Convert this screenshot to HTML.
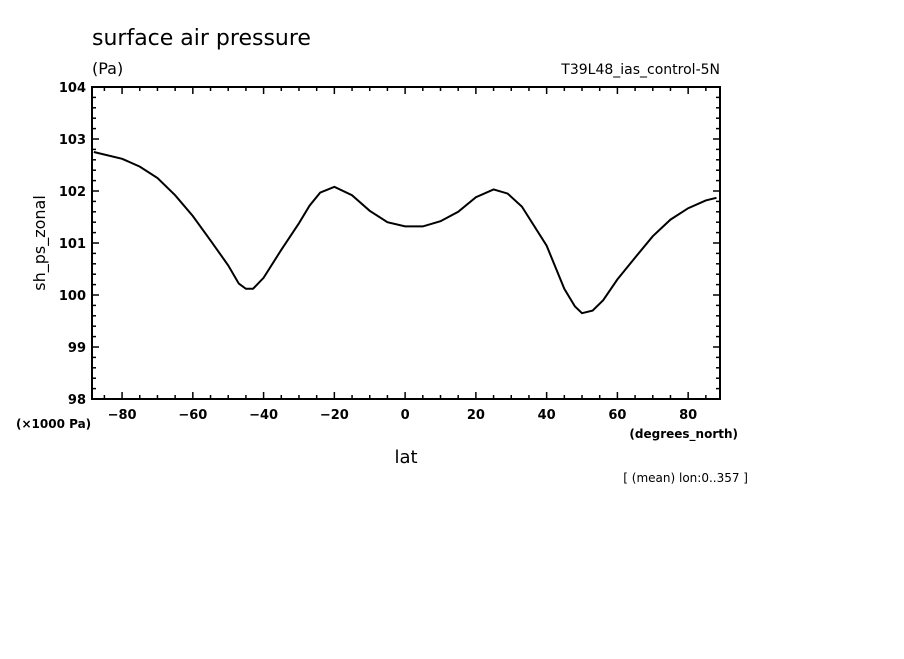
<!DOCTYPE html>
<html><head><meta charset="utf-8"><style>
body{margin:0;background:#fff;width:904px;height:654px;overflow:hidden}
svg text{font-family:"DejaVu Sans","Liberation Sans",sans-serif;fill:#000}
</style></head><body>
<svg id="chart" width="904" height="654">
<text x="92" y="45" font-size="22">surface air pressure</text>
<text x="92" y="74" font-size="16">(Pa)</text>
<text x="720" y="74" font-size="14" text-anchor="end">T39L48_ias_control-5N</text>
<text x="45" y="243" font-size="16" text-anchor="middle" transform="rotate(-90 45 243)">sh_ps_zonal</text>
<text x="16" y="428" font-size="12" font-weight="bold">(×1000 Pa)</text>
<text x="738" y="438" font-size="12" font-weight="bold" text-anchor="end">(degrees_north)</text>
<text x="406" y="463" font-size="18" text-anchor="middle">lat</text>
<text x="748" y="482" font-size="12" text-anchor="end">[ (mean) lon:0..357 ]</text>
<g id="axes"></g>
<path id="line" fill="none" stroke="#000" stroke-width="2"/>
</svg>
<script>
const lats=[-88,-80,-75,-70,-65,-60,-55,-50,-47,-45,-43,-40,-35,-30,-27,-24,-20,-15,-10,-5,0,5,10,15,20,25,29,33,40,45,48,50,53,56,60,65,70,75,80,85,88];
const ps=[102.75,102.62,102.47,102.25,101.92,101.52,101.05,100.57,100.22,100.12,100.12,100.33,100.87,101.38,101.72,101.97,102.08,101.92,101.62,101.4,101.32,101.32,101.42,101.6,101.88,102.03,101.95,101.7,100.95,100.12,99.78,99.65,99.7,99.9,100.3,100.72,101.13,101.45,101.67,101.82,101.87];
const xTicks=[-80,-60,-40,-20,0,20,40,60,80];
const yTicks=[98,99,100,101,102,103,104];
const L=92,R=720,T=87,B=399,xmin=-88.5,xmax=89,ymin=98,ymax=104;
const X=v=>L+(v-xmin)/(xmax-xmin)*(R-L);
const Y=v=>B-(v-ymin)/(ymax-ymin)*(B-T);
const ns="http://www.w3.org/2000/svg",g=document.getElementById('axes');
function ln(x1,y1,x2,y2,w,name){const e=document.createElementNS(ns,'line');e.setAttribute('x1',x1);e.setAttribute('y1',y1);e.setAttribute('x2',x2);e.setAttribute('y2',y2);e.setAttribute('stroke','#000');e.setAttribute('stroke-width',w);


g.appendChild(e);}
function tx(x,y,s,a,name){const e=document.createElementNS(ns,'text');e.setAttribute('x',x);e.setAttribute('y',y);e.setAttribute('font-size','13');e.setAttribute('font-weight','bold');e.setAttribute('text-anchor',a);e.textContent=s;


g.appendChild(e);}
const fr=document.createElementNS(ns,'rect');fr.setAttribute('x',L);fr.setAttribute('y',T);fr.setAttribute('width',R-L);fr.setAttribute('height',B-T);fr.setAttribute('fill','none');fr.setAttribute('stroke','#000');fr.setAttribute('stroke-width','2');


g.appendChild(fr);
for(let v=-85;v<=85;v+=5){const x=X(v),maj=v%20===0,h=maj?7:4;ln(x,B,x,B-h,1.5,'x-tick');ln(x,T,x,T+h,1.5,'x-tick');}
for(let i=0;i<=30;i++){const v=98+i*0.2,y=Y(v),maj=i%5===0,h=maj?7:4;ln(L,y,L+h,y,1.5,'y-tick');ln(R,y,R-h,y,1.5,'y-tick');}
xTicks.forEach(v=>tx(X(v),419,(v<0?'\u2212':'')+Math.abs(v),'middle','x-tick-label'));
yTicks.forEach(v=>tx(L-6,Y(v)+5,String(v),'end','y-tick-label'));
document.getElementById('line').setAttribute('d',lats.map((v,i)=>(i?'L':'M')+X(v).toFixed(1)+','+Y(ps[i]).toFixed(1)).join(''));
</script>
</body></html>
